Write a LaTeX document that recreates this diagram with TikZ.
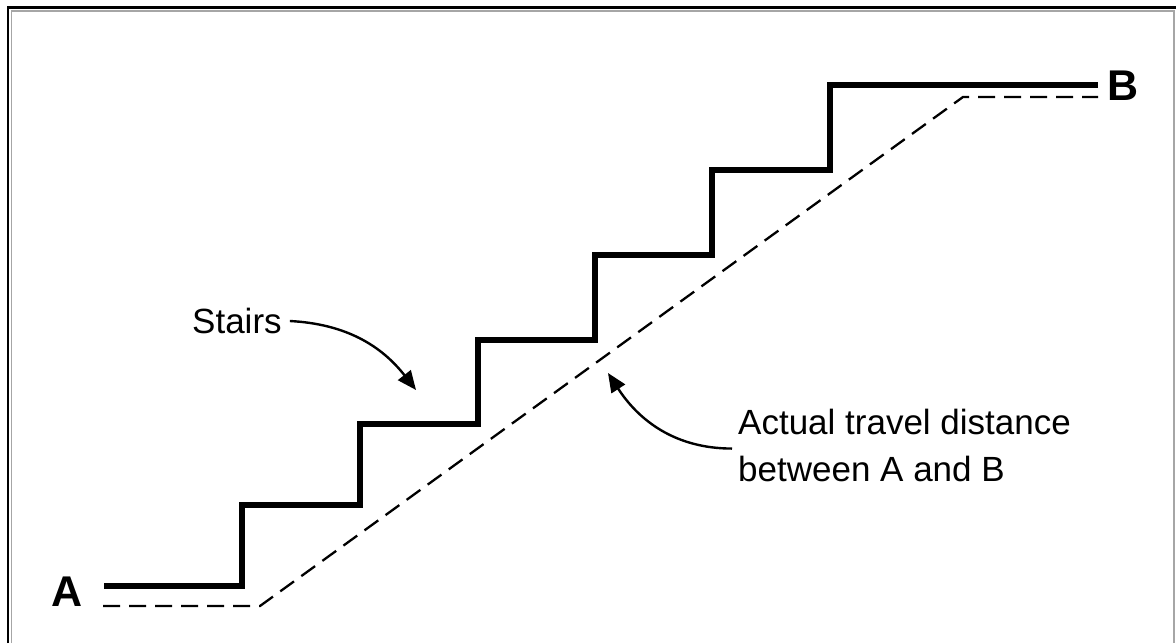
\documentclass[tikz,border=0pt]{standalone}
\usepackage{fontspec}
\setmainfont{Liberation Sans}
\usetikzlibrary{arrows.meta}
\begin{document}
\begin{tikzpicture}[x=1pt,y=-1pt,
  stairline/.style={line width=6.5pt,line join=miter,line cap=butt},
  travelline/.style={line width=2.3pt,dash pattern=on 17pt off 9pt},
  pointer/.style={line width=2.4pt,-{Triangle[length=19pt,width=16pt]}},
  endlabel/.style={inner sep=0pt,font=\fontsize{43}{43}\selectfont\bfseries},
  textlabel/.style={inner sep=0pt,font=\fontsize{35}{47}\selectfont,align=left}]
\useasboundingbox (0,0) rectangle (1176,643);
% frame
\draw[line width=2.5pt] (8,643) -- (8,7.5) -- (1176,7.5);
\draw[gray!70,line width=1.5pt] (11.5,643) -- (11.5,11) -- (1174,11) -- (1174,643);
% stairs
\draw[stairline] (104,586) -- (242,586) -- (242,505) -- (360,505) -- (360,424)
  -- (478,424) -- (478,340) -- (595,340) -- (595,255) -- (712,255) -- (712,170)
  -- (830,170) -- (830,85) -- (1098,85);
% actual travel line
\draw[travelline] (103,606) -- (260,606) -- (963,97) -- (1098,97);
% labels
\node[endlabel] (A) at (67,592) {A};
\node[endlabel] (B) at (1123,86) {B};
\node[textlabel,anchor=west] (stairs) at (192,321) {Stairs};
\node[textlabel,anchor=north west] (travel) at (738,409) {Actual travel distance\\between A and B};
\coordinate (stairtip) at (416,390);
\coordinate (traveltip) at (608,373);
\draw[pointer] ([xshift=8pt]stairs.east) to[out=-3,in=128] (stairtip);
\draw[pointer] ([xshift=-6pt,yshift=-3pt]travel.west) to[out=180,in=-57] (traveltip);
\end{tikzpicture}
\end{document}
